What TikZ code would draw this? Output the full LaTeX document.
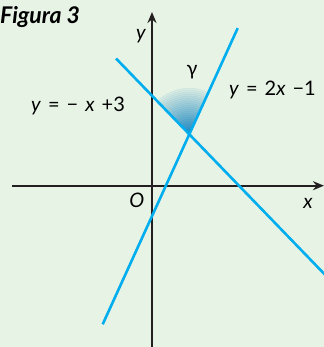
\documentclass[tikz,border=0pt]{standalone}
\usepackage{fontspec}
\setmainfont{Lato}
\usetikzlibrary{arrows.meta}
\definecolor{fondo}{HTML}{E7F3E5}
\definecolor{recta}{HTML}{00AEEF}
\definecolor{sombra}{HTML}{1A86C0}
\definecolor{eje}{HTML}{231F20}
\newcommand{\esp}{\hspace{0.35em}}
\begin{document}
\begin{tikzpicture}[x=29pt, y=30pt, every node/.append style={inner sep=0pt, font=\fontsize{20}{24}\selectfont},
  axis/.style={eje, line width=2pt, -{Stealth[length=11pt, width=9pt]}}, line/.style={recta, line width=2.6pt}]
  \fill[fondo] (-5.241,-5.377) rectangle (5.931,6.19); \useasboundingbox (-5.241,-5.377) rectangle (5.931,6.19);
  \coordinate (a1) at (-1.24,4.24); \coordinate (a2) at (6.2,-3.2);   % y = -x+3
  \coordinate (b1) at (-1.70,-4.62); \coordinate (b2) at (2.955,5.25); % y = 2x-1
  \coordinate (P) at (intersection of a1--a2 and b1--b2);
  % angle gamma
  \foreach \i in {0,...,23} {
    \pgfmathsetmacro\r{46*(1-\i/24)} \pgfmathtruncatemacro\pct{6+\i*4}
    \fill[sombra!\pct!fondo] (P) -- ++(65.3:\r pt) arc[start angle=65.3, end angle=134, radius=\r pt] -- cycle;
    \draw[sombra!\pct!fondo!85!sombra, line width=0.3pt] (P) ++(65.3:\r pt) arc[start angle=65.3, end angle=134, radius=\r pt];
  }
  \draw[axis] (-4.83,0) -- (5.93,0); \draw[axis] (0,-5.5) -- (0,5.79);
  \draw[line] (a1) -- (a2); \draw[line] (b1) -- (b2);
  \node[anchor=base west, font=\fontsize{23}{27}\selectfont\bfseries\itshape] (fig) at (-5.241,5.42) {Figura 3};
  \node (ly) at (-0.38,4.99) {\textit{y}};          \node (lx) at (5.38,-0.58) {\textit{x}};
  \node (lo) at (-0.52,-0.48) {\textit{O}};         \node (lg) at (1.38,3.79) {γ};
  \node[anchor=west] (eb) at (2.655,3.19) {\textit{y}\esp=\esp2\textit{x}\esp−1};
  \node (ea) at (-2.55,2.66) {\textit{y}\esp=\esp−\esp\textit{x}\esp+3};
\end{tikzpicture}
\end{document}
